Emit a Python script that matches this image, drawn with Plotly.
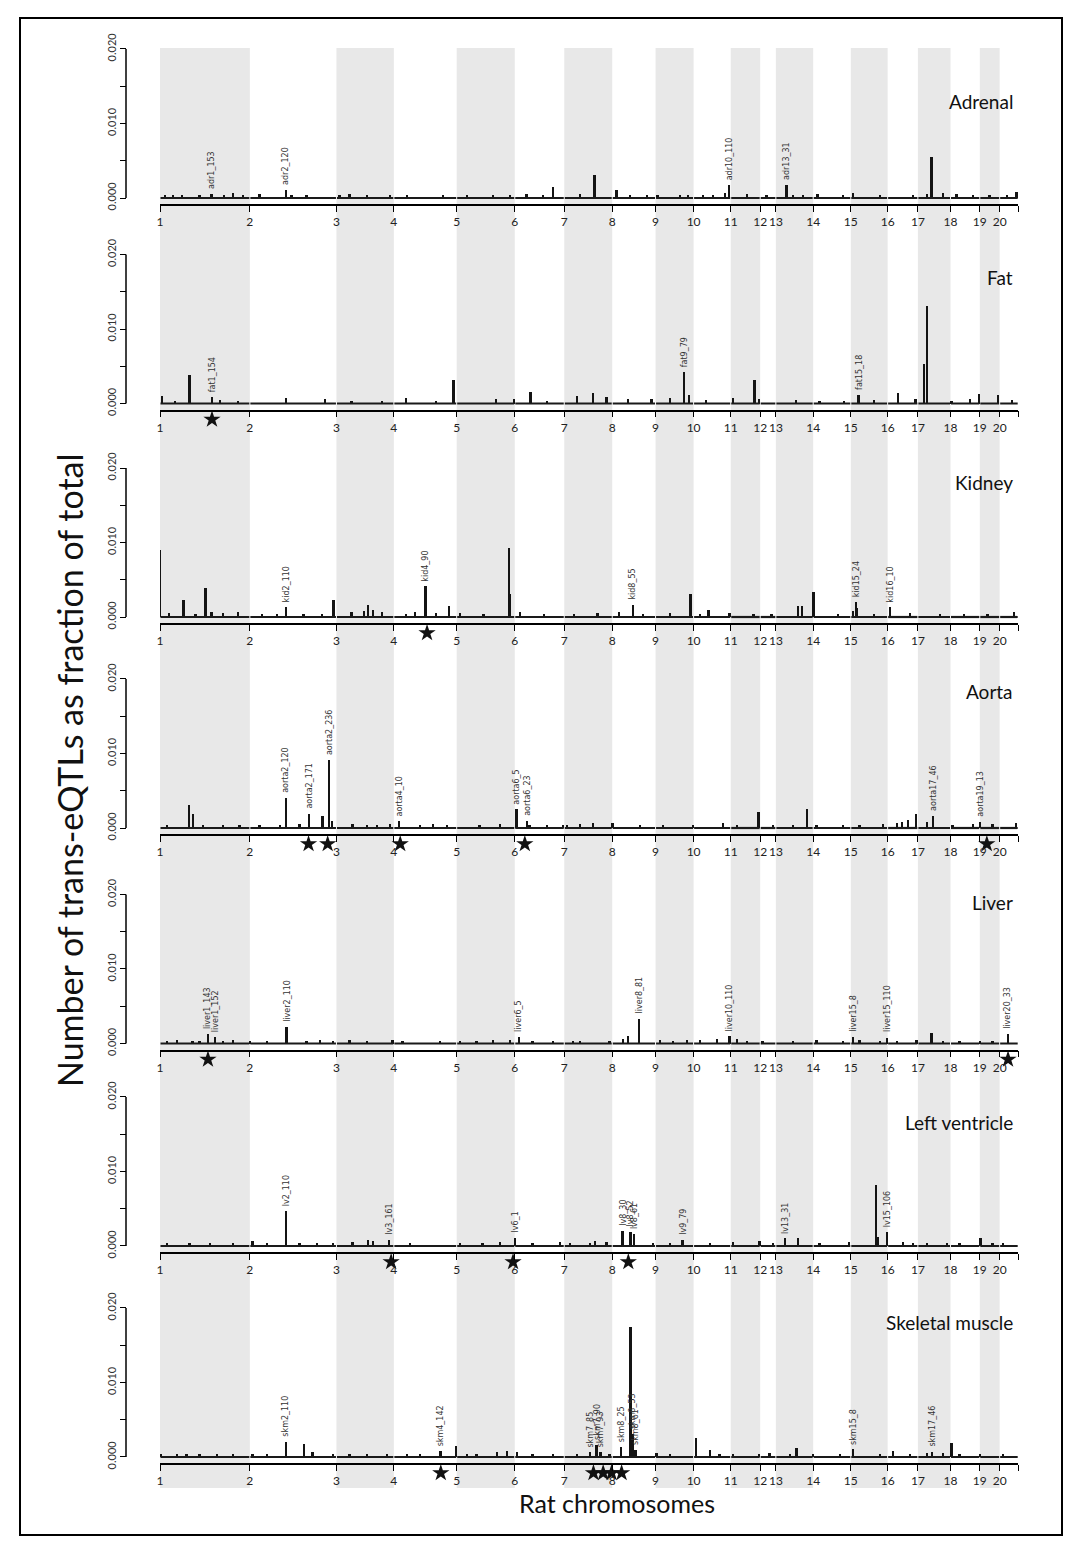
import plotly.graph_objects as go

# ---------------- data ----------------
CHROMOSOMES = ["1", "2", "3", "4", "5", "6", "7", "8", "9", "10",
               "11", "12", "13", "14", "15", "16", "17", "18", "19", "20"]
CHROM_LENGTHS_MB = [267.9, 258.2, 171.1, 187.4, 173.1, 147.6, 143.0, 129.2, 113.4, 110.7,
                    87.8, 46.8, 111.2, 112.2, 109.8, 90.2, 97.3, 87.3, 59.2, 55.3]

TISSUES = ["Adrenal", "Fat", "Kidney", "Aorta", "Liver", "Left ventricle", "Skeletal muscle"]

# (chromosome, position in Mb, trans-eQTL fraction)
ADRENAL_BARS = [
    (1, 154, 0.0005), (2, 108, 0.0011), (6, 114, 0.0014), (7, 91, 0.0030), (8, 13, 0.0010),
    (10, 107, 0.0017), (13, 32, 0.0017), (17, 41, 0.0055), (20, 51, 0.0008),
    (1, 15, 0.0003), (1, 39, 0.0004), (1, 66, 0.0003), (1, 119, 0.0003), (1, 191, 0.0004),
    (1, 218, 0.0006), (1, 248, 0.0003), (2, 30, 0.0005), (2, 125, 0.0004), (2, 170, 0.0004),
    (3, 10, 0.0003), (3, 40, 0.0005), (3, 91, 0.0004), (3, 160, 0.0003), (4, 39, 0.0003),
    (4, 147, 0.0003), (5, 31, 0.0003), (5, 108, 0.0004), (5, 159, 0.0004), (6, 36, 0.0005),
    (6, 84, 0.0004), (7, 47, 0.0005), (8, 53, 0.0004), (8, 104, 0.0003), (9, 7, 0.0004),
    (9, 73, 0.0003), (9, 97, 0.0004), (10, 28, 0.0004), (10, 58, 0.0003), (10, 94, 0.0006),
    (11, 49, 0.0005), (12, 20, 0.0003), (13, 51, 0.0004), (13, 81, 0.0003), (14, 14, 0.0005),
    (14, 89, 0.0004), (15, 7, 0.0006), (15, 87, 0.0003), (16, 76, 0.0004), (17, 27, 0.0005),
    (17, 75, 0.0006), (18, 19, 0.0005), (18, 67, 0.0004), (19, 30, 0.0004), (20, 22, 0.0004),
]
FAT_BARS = [
    (1, 89, 0.0039), (1, 155, 0.0009), (4, 179, 0.0032), (6, 48, 0.0016), (7, 86, 0.0014),
    (9, 85, 0.0042), (9, 100, 0.0012), (11, 72, 0.0032), (15, 24, 0.0012), (16, 31, 0.0015),
    (17, 18, 0.0053), (17, 27, 0.0131), (18, 86, 0.0013), (19, 55, 0.0012),
    (1, 6, 0.0011), (1, 45, 0.0004), (1, 179, 0.0005), (1, 233, 0.0004), (2, 108, 0.0008),
    (2, 224, 0.0006), (3, 46, 0.0004), (3, 136, 0.0004), (4, 36, 0.0008), (4, 126, 0.0004),
    (5, 117, 0.0006), (5, 171, 0.0007), (6, 96, 0.0004), (7, 38, 0.0010), (7, 127, 0.0009),
    (8, 47, 0.0006), (8, 118, 0.0007), (9, 43, 0.0008), (10, 37, 0.0005), (11, 7, 0.0008),
    (11, 86, 0.0006), (13, 60, 0.0005), (14, 20, 0.0004), (14, 92, 0.0004), (15, 69, 0.0005),
    (16, 84, 0.0006), (18, 4, 0.0004), (18, 58, 0.0007), (20, 37, 0.0005),
]
KIDNEY_BARS = [
    (1, 1, 0.0089), (1, 71, 0.0022), (1, 136, 0.0039), (1, 154, 0.0007), (2, 108, 0.0013),
    (2, 250, 0.0022), (3, 94, 0.0016), (3, 110, 0.0009), (4, 95, 0.0041), (4, 165, 0.0014),
    (5, 156, 0.0092), (5, 160, 0.0031), (8, 62, 0.0016), (9, 105, 0.0031), (10, 45, 0.0009),
    (13, 66, 0.0015), (13, 78, 0.0015), (14, 2, 0.0033), (15, 16, 0.0020), (15, 20, 0.0012),
    (16, 8, 0.0013), (20, 43, 0.0007),
    (1, 27, 0.0005), (1, 107, 0.0004), (1, 188, 0.0005), (1, 233, 0.0006), (2, 36, 0.0004),
    (2, 81, 0.0003), (2, 161, 0.0004), (2, 215, 0.0004), (3, 46, 0.0006), (3, 82, 0.0008),
    (3, 136, 0.0006), (4, 36, 0.0004), (4, 63, 0.0006), (4, 126, 0.0005), (5, 10, 0.0005),
    (5, 81, 0.0004), (6, 16, 0.0006), (6, 87, 0.0004), (7, 29, 0.0004), (7, 100, 0.0005),
    (8, 20, 0.0007), (8, 92, 0.0004), (9, 43, 0.0005), (10, 19, 0.0004), (10, 108, 0.0005),
    (11, 69, 0.0004), (12, 35, 0.0004), (14, 74, 0.0004), (15, 7, 0.0008), (15, 69, 0.0004),
    (16, 67, 0.0005), (17, 66, 0.0004), (18, 40, 0.0004), (19, 24, 0.0004),
]
AORTA_BARS = [
    (1, 87, 0.0031), (1, 99, 0.0019), (2, 108, 0.0040), (2, 177, 0.0019), (2, 217, 0.0016),
    (2, 237, 0.0091), (2, 245, 0.0009), (4, 16, 0.0009), (6, 6, 0.0025), (6, 38, 0.0009),
    (11, 84, 0.0021), (13, 94, 0.0025), (16, 62, 0.0011), (16, 85, 0.0019), (17, 46, 0.0016),
    (19, 1, 0.0008), (20, 50, 0.0006),
    (1, 21, 0.0003), (1, 128, 0.0004), (1, 188, 0.0004), (1, 238, 0.0003), (2, 30, 0.0004),
    (2, 90, 0.0004), (2, 149, 0.0005), (3, 49, 0.0005), (3, 91, 0.0004), (3, 121, 0.0004),
    (3, 160, 0.0005), (4, 78, 0.0003), (4, 117, 0.0005), (4, 159, 0.0003), (5, 69, 0.0004),
    (5, 129, 0.0005), (6, 45, 0.0004), (6, 96, 0.0004), (6, 144, 0.0004), (7, 8, 0.0004),
    (7, 47, 0.0005), (7, 86, 0.0006), (8, 2, 0.0006), (8, 83, 0.0003), (9, 22, 0.0003),
    (9, 112, 0.0003), (10, 88, 0.0006), (11, 19, 0.0004), (12, 38, 0.0004), (13, 51, 0.0004),
    (14, 11, 0.0003), (14, 89, 0.0004), (15, 27, 0.0004), (15, 96, 0.0005), (16, 28, 0.0006),
    (16, 43, 0.0008), (17, 27, 0.0008), (18, 7, 0.0004), (18, 67, 0.0005), (19, 39, 0.0005),
]
LIVER_BARS = [
    (1, 144, 0.0013), (1, 165, 0.0009), (2, 110, 0.0022), (6, 13, 0.0009), (8, 48, 0.0010),
    (8, 80, 0.0033), (10, 108, 0.0010), (15, 8, 0.0009), (15, 108, 0.0008), (17, 41, 0.0015),
    (20, 25, 0.0013),
    (1, 21, 0.0004), (1, 51, 0.0005), (1, 98, 0.0004), (1, 119, 0.0004), (1, 188, 0.0004),
    (1, 218, 0.0005), (2, 1, 0.0003), (2, 51, 0.0004), (2, 170, 0.0004), (2, 209, 0.0005),
    (2, 248, 0.0004), (3, 40, 0.0005), (3, 91, 0.0004), (3, 168, 0.0005), (4, 27, 0.0004),
    (4, 138, 0.0003), (5, 10, 0.0004), (5, 60, 0.0004), (5, 108, 0.0005), (5, 159, 0.0005),
    (6, 54, 0.0004), (6, 114, 0.0003), (7, 26, 0.0003), (7, 47, 0.0004), (7, 136, 0.0004),
    (8, 32, 0.0006), (9, 13, 0.0005), (9, 52, 0.0004), (9, 94, 0.0005), (10, 19, 0.0005),
    (10, 70, 0.0006), (11, 19, 0.0007), (11, 49, 0.0004), (12, 8, 0.0004), (13, 51, 0.0004),
    (14, 11, 0.0005), (14, 89, 0.0004), (15, 27, 0.0005), (15, 87, 0.0004), (16, 28, 0.0003),
    (16, 87, 0.0005), (17, 75, 0.0004), (18, 28, 0.0004), (19, 1, 0.0004), (19, 39, 0.0004),
]
LV_BARS = [
    (2, 108, 0.0046), (3, 95, 0.0008), (3, 157, 0.0008), (6, 1, 0.0011), (7, 92, 0.0006),
    (8, 31, 0.0020), (8, 55, 0.0019), (8, 65, 0.0016), (9, 81, 0.0008), (13, 27, 0.0010),
    (13, 67, 0.0010), (15, 75, 0.0081), (15, 80, 0.0012), (15, 109, 0.0019), (19, 3, 0.0011),
    (1, 21, 0.0003), (1, 89, 0.0004), (1, 149, 0.0003), (1, 218, 0.0004), (2, 9, 0.0006),
    (2, 51, 0.0004), (2, 149, 0.0004), (2, 200, 0.0003), (2, 248, 0.0004), (3, 49, 0.0005),
    (3, 109, 0.0007), (4, 48, 0.0003), (5, 10, 0.0003), (5, 78, 0.0004), (5, 129, 0.0005),
    (6, 54, 0.0004), (6, 135, 0.0005), (7, 17, 0.0004), (7, 77, 0.0004), (7, 127, 0.0005),
    (8, 122, 0.0004), (9, 43, 0.0004), (10, 49, 0.0004), (11, 7, 0.0005), (11, 87, 0.0006),
    (12, 38, 0.0004), (14, 20, 0.0004), (14, 108, 0.0005), (16, 46, 0.0005), (16, 76, 0.0004),
    (17, 27, 0.0004), (17, 87, 0.0004), (18, 28, 0.0004), (19, 39, 0.0004), (20, 10, 0.0004),
]
SKELETAL_BARS = [
    (2, 108, 0.0020), (2, 162, 0.0017), (4, 140, 0.0008), (4, 186, 0.0015), (7, 77, 0.0006),
    (7, 97, 0.0016), (7, 109, 0.0006), (8, 26, 0.0013), (8, 55, 0.0174), (8, 63, 0.0031),
    (8, 70, 0.0009), (10, 7, 0.0025), (10, 49, 0.0009), (13, 62, 0.0012), (15, 8, 0.0010),
    (16, 17, 0.0008), (17, 43, 0.0007), (18, 4, 0.0019),
    (1, 2, 0.0003), (1, 51, 0.0003), (1, 80, 0.0004), (1, 119, 0.0004), (1, 170, 0.0003),
    (1, 218, 0.0004), (2, 9, 0.0003), (2, 51, 0.0004), (2, 188, 0.0006), (2, 248, 0.0004),
    (3, 40, 0.0004), (3, 91, 0.0004), (3, 151, 0.0004), (4, 39, 0.0003), (4, 78, 0.0003),
    (5, 31, 0.0004), (5, 60, 0.0004), (5, 120, 0.0006), (5, 150, 0.0008), (6, 7, 0.0006),
    (6, 54, 0.0004), (6, 114, 0.0003), (7, 38, 0.0004), (7, 136, 0.0004), (9, 4, 0.0005),
    (9, 43, 0.0004), (10, 78, 0.0004), (11, 7, 0.0004), (11, 86, 0.0004), (12, 29, 0.0005),
    (13, 42, 0.0004), (14, 1, 0.0004), (14, 80, 0.0004), (15, 87, 0.0004), (16, 67, 0.0004),
    (17, 27, 0.0005), (17, 75, 0.0005), (18, 28, 0.0004), (19, 1, 0.0004), (20, 10, 0.0004),
]

# peak labels: (chromosome, position in Mb, text)
ADRENAL_LABELS = [(1, 154, "adr1_153"), (2, 108, "adr2_120"), (10, 107, "adr10_110"), (13, 32, "adr13_31")]
FAT_LABELS = [(1, 155, "fat1_154"), (9, 85, "fat9_79"), (15, 24, "fat15_18")]
KIDNEY_LABELS = [(2, 108, "kid2_110"), (4, 95, "kid4_90"), (8, 62, "kid8_55"),
                 (15, 16, "kid15_24"), (16, 8, "kid16_10")]
AORTA_LABELS = [(2, 108, "aorta2_120"), (2, 177, "aorta2_171"), (2, 237, "aorta2_236"),
                (4, 16, "aorta4_10"), (6, 6, "aorta6_5"), (6, 38, "aorta6_23"),
                (17, 46, "aorta17_46"), (19, 1, "aorta19_13")]
LIVER_LABELS = [(1, 144, "liver1_143"), (1, 165, "liver1_152"), (2, 110, "liver2_110"),
                (6, 13, "liver6_5"), (8, 80, "liver8_81"), (10, 108, "liver10_110"),
                (15, 8, "liver15_8"), (15, 108, "liver15_110"), (20, 25, "liver20_33")]
LV_LABELS = [(2, 108, "lv2_110"), (3, 157, "lv3_161"), (6, 1, "lv6_1"), (8, 31, "lv8_30"),
             (8, 55, "lv8_52"), (8, 65, "lv8_61"), (9, 81, "lv9_79"), (13, 27, "lv13_31"),
             (15, 109, "lv15_106")]
SKELETAL_LABELS = [(2, 108, "skm2_110"), (4, 140, "skm4_142"), (7, 77, "skm7_85"),
                   (7, 97, "skm7_90"), (7, 109, "skm7_93"), (8, 26, "skm8_25"),
                   (8, 63, "skm8_53"), (8, 70, "skm8_61"), (15, 8, "skm15_8"), (17, 43, "skm17_46")]

# stars below the axis: (chromosome, position in Mb)
ADRENAL_STARS = []
FAT_STARS = [(1, 155)]
KIDNEY_STARS = [(4, 99)]
AORTA_STARS = [(2, 175), (2, 232), (4, 19), (6, 30), (19, 21)]
LIVER_STARS = [(1, 143), (20, 25)]
LV_STARS = [(3, 163), (5, 168), (8, 48)]
SKELETAL_STARS = [(4, 140), (7, 87), (7, 116), (7, 141), (8, 28)]

TISSUE_BARS = [ADRENAL_BARS, FAT_BARS, KIDNEY_BARS, AORTA_BARS, LIVER_BARS, LV_BARS, SKELETAL_BARS]
TISSUE_LABELS = [ADRENAL_LABELS, FAT_LABELS, KIDNEY_LABELS, AORTA_LABELS, LIVER_LABELS, LV_LABELS, SKELETAL_LABELS]
TISSUE_STARS = [ADRENAL_STARS, FAT_STARS, KIDNEY_STARS, AORTA_STARS, LIVER_STARS, LV_STARS, SKELETAL_STARS]

Y_TICKS = [0, 0.005, 0.010, 0.015, 0.020]
Y_TICK_TEXT = ["0.000", "", "0.010", "", "0.020"]

# ---------------- layout geometry ----------------
W, H = 1074, 1548
OX, OY = 8, 8          # page body margin: figure sits 8px from the window corner
FONT = "Lato, 'Open Sans', sans-serif"
offsets = [0.0]
for L in CHROM_LENGTHS_MB:
    offsets.append(offsets[-1] + L)
TOTAL = offsets[-1]


def gpos(c, p):
    return offsets[c - 1] + p


def pxx(px):
    return (px - OX) / W


def py(px):
    return 1 - (px - OY) / H


X_LEFT_PX, X_RIGHT_PX = 160, 1018.2
SPINE_PX = 126
BASE_PX = [198, 403.5, 617, 828, 1043.5, 1246, 1457]
PX_PER_UNIT = 149 / 0.02
AXIS_GAP_PX = 7            # x-axis line sits this far below the zero line
STAR_GAP_PX = 16           # stars sit this far below the zero line
Y_MIN, Y_MAX = -0.0035, 0.0205
STAR_Y = -STAR_GAP_PX / PX_PER_UNIT
TITLE_Y_PX = [101, 277, 483, 691, 902, 1122, 1322]

fig = go.Figure()
layout = dict(template="none", width=W, height=H, autosize=False,
              margin=dict(l=0, r=0, t=0, b=0, pad=0, autoexpand=False),
              paper_bgcolor="white", plot_bgcolor="rgba(0,0,0,0)",
              font=dict(family=FONT, color="#1a1a1a"), showlegend=False,
              bargap=0, shapes=[], annotations=[])

# shaded bands for odd chromosomes
for i, L in enumerate(CHROM_LENGTHS_MB):
    if i % 2 == 0:
        layout["shapes"].append(dict(type="rect", xref="x", yref="paper",
                                     x0=offsets[i], x1=offsets[i] + L,
                                     y0=py(1488), y1=py(48),
                                     fillcolor="#e8e8e8", line=dict(width=0), layer="below"))

for k, tissue in enumerate(TISSUES):
    sfx = "" if k == 0 else str(k + 1)
    xa, ya = "x" + sfx, "y" + sfx
    base = BASE_PX[k]
    bottom_px = base - Y_MIN * PX_PER_UNIT
    top_px = base - Y_MAX * PX_PER_UNIT
    layout["xaxis" + sfx] = dict(domain=[pxx(X_LEFT_PX), pxx(X_RIGHT_PX)], range=[0, TOTAL],
                                 anchor="free", position=py(base + AXIS_GAP_PX),
                                 showline=True, linecolor="black", linewidth=1.5,
                                 ticks="outside", ticklen=6, tickwidth=1.2, tickcolor="black",
                                 tickvals=offsets, ticktext=CHROMOSOMES + [""], tickangle=0,
                                 tickfont=dict(size=12, color="#222"), automargin=False,
                                 showgrid=False, zeroline=False, fixedrange=True)
    layout["yaxis" + sfx] = dict(domain=[py(bottom_px), py(top_px)], range=[Y_MIN, Y_MAX],
                                 anchor="free", position=pxx(SPINE_PX), showline=False,
                                 ticks="outside", ticklen=6, tickwidth=1.2, tickcolor="black",
                                 tickvals=Y_TICKS, ticktext=Y_TICK_TEXT, tickangle=-90,
                                 tickfont=dict(size=11, color="#333"), automargin=False,
                                 showgrid=False, zeroline=False, fixedrange=True)
    # y spine from 0 to 0.020
    layout["shapes"].append(dict(type="line", xref="paper", yref=ya, x0=pxx(SPINE_PX), x1=pxx(SPINE_PX),
                                 y0=0, y1=0.02, line=dict(color="black", width=1.5)))

    bars = TISSUE_BARS[k]
    # baseline at zero, per chromosome
    bx, by = [], []
    for i, L in enumerate(CHROM_LENGTHS_MB):
        bx += [offsets[i] + 1.5, offsets[i] + L - 1.5, None]
        by += [0, 0, None]
    fig.add_trace(go.Scatter(x=bx, y=by, mode="lines", line=dict(color="#1a1a1a", width=2.2),
                             xaxis=xa, yaxis=ya, hoverinfo="skip"))
    fig.add_trace(go.Bar(x=[gpos(c, p) for c, p, v in bars], y=[v for c, p, v in bars],
                         width=5.5, marker=dict(color="#141414", line=dict(width=0)),
                         xaxis=xa, yaxis=ya))
    stars = TISSUE_STARS[k]
    if stars:
        fig.add_trace(go.Scatter(x=[gpos(c, p) for c, p in stars], y=[STAR_Y] * len(stars),
                                 mode="markers", cliponaxis=False,
                                 marker=dict(symbol="star", size=13, color="#111"),
                                 xaxis=xa, yaxis=ya))
    for c, p, txt in TISSUE_LABELS[k]:
        val = max([v for cc, pp, v in bars if cc == c and abs(pp - p) < 1e-9] or [0.0005])
        layout["annotations"].append(dict(x=gpos(c, p), y=val, xref=xa, yref=ya, text=txt,
                                          textangle=-90, showarrow=False, xanchor="center",
                                          yanchor="bottom", yshift=3,
                                          font=dict(size=8, color="#333", family="DejaVu Sans")))
    layout["annotations"].append(dict(x=pxx(1015), y=py(TITLE_Y_PX[k]), xref="paper", yref="paper",
                                      text=tissue, showarrow=False, xanchor="right", yanchor="middle",
                                      font=dict(size=19, color="#111")))

# axis titles
layout["annotations"].append(dict(x=pxx(69), y=py(770), xref="paper", yref="paper",
                                  xanchor="center", yanchor="middle",
                                  text="Number of trans-eQTLs as fraction of total", textangle=-90,
                                  showarrow=False, font=dict(size=34, color="#111")))
layout["annotations"].append(dict(x=pxx(617), y=py(1503), xref="paper", yref="paper",
                                  xanchor="center", yanchor="middle",
                                  text="Rat chromosomes", showarrow=False,
                                  font=dict(size=25, color="#111")))
# outer frame
layout["shapes"].append(dict(type="rect", xref="paper", yref="paper", x0=pxx(20), x1=pxx(1062),
                             y0=py(1535), y1=py(18), line=dict(color="black", width=2),
                             fillcolor="rgba(0,0,0,0)"))

fig.update_layout(**layout)
fig.write_html("out.html")
